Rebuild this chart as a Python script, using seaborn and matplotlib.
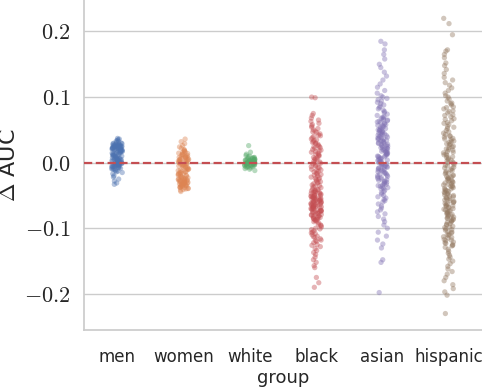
import numpy as np
import pandas as pd
import matplotlib
matplotlib.use('Agg')
import matplotlib.pyplot as plt
import seaborn as sns

# Delta AUC per group (dense runs = dense blobs)
groups = ['men', 'women', 'white', 'black', 'asian', 'hispanic']

men = [0.037, 0.036, 0.035, 0.034, 0.033, 0.032, 0.031,
       0.030, 0.029, 0.028, 0.027, 0.026, 0.025, 0.024, 0.023, 0.022, 0.021,
       0.020, 0.019, 0.018, 0.017, 0.016, 0.015, 0.014, 0.013, 0.012, 0.011,
       0.010, 0.009, 0.008, 0.007, 0.006, 0.005, 0.004, 0.003, 0.002, 0.001,
       0.000, -0.001, -0.002, -0.003, -0.004, -0.005, -0.006, -0.007, -0.008, -0.009,
       -0.010, -0.011, -0.012, -0.013, -0.014, -0.015, -0.017, -0.020, -0.022, -0.025,
       -0.028, -0.031, -0.033,
       0.0295, 0.0285, 0.0275, 0.0265, 0.0255, 0.0245, 0.0235, 0.0225, 0.0215, 0.0205,
       0.0195, 0.0185, 0.0175, 0.0165, 0.0155, 0.0145, 0.0135, 0.0125, 0.0115, 0.0105,
       0.0095, 0.0085, 0.0075, 0.0065, 0.0055, 0.0045, 0.0035, 0.0025, 0.0015, 0.0005,
       -0.0005, -0.0015, -0.0025, -0.0035, -0.0045, -0.0055, -0.0065, -0.0075, -0.0085, -0.0095,
       0.028, 0.027, 0.026, 0.025, 0.024, 0.023, 0.022, 0.021, 0.020, 0.019,
       0.0262, 0.0242, 0.0222, 0.0202, 0.0182,
       0.006, 0.005, 0.004, 0.003, 0.002, 0.001, 0.000, -0.001, -0.002, -0.003,
       -0.004, -0.005, -0.006]

women = [0.036, 0.032, 0.029, 0.026, 0.024, 0.022,
         0.020, 0.019, 0.018, 0.017, 0.016, 0.015, 0.014, 0.013, 0.012, 0.011,
         0.010, 0.009, 0.008, 0.007, 0.006, 0.005, 0.004, 0.003, 0.002, 0.001,
         0.000, -0.001, -0.002, -0.003, -0.004, -0.005, -0.006, -0.007, -0.008, -0.009,
         -0.010, -0.011, -0.012, -0.013, -0.014, -0.015, -0.016, -0.017, -0.018, -0.019,
         -0.020, -0.021, -0.022, -0.023, -0.024, -0.025, -0.026, -0.027, -0.028, -0.029,
         -0.030, -0.031, -0.032, -0.033, -0.034, -0.035, -0.036, -0.037, -0.038, -0.039,
         -0.040, -0.041, -0.042, -0.044,
         0.0145, 0.0125, 0.0105, 0.0085, 0.0065, 0.0045, 0.0025, 0.0005, -0.0015, -0.0035,
         -0.0055, -0.0075, -0.0095, -0.0115, -0.0135, -0.0155, -0.0175, -0.0195, -0.0215,
         -0.0235, -0.0255, -0.0275, -0.0295, -0.0315, -0.0335, -0.0355, -0.0375, -0.0395,
         0.008, 0.006, 0.004, 0.002, 0.000, -0.002,
         -0.024, -0.026, -0.028, -0.030, -0.032, -0.034, -0.036, -0.038,
         -0.0265, -0.0285, -0.0305, -0.0325, -0.0345]

white = [0.026, 0.016, 0.013, 0.011, 0.010, 0.009, 0.008, 0.007, 0.006, 0.005, 0.004, 0.003,
         0.002, 0.001, 0.000, -0.001, -0.002, -0.003, -0.004, -0.005, -0.006, -0.007, -0.008,
         -0.009, -0.010, -0.012,
         0.0075, 0.0065, 0.0055, 0.0045, 0.0035, 0.0025, 0.0015, 0.0005, -0.0005, -0.0015,
         -0.0025, -0.0035, -0.0045, -0.0055, -0.0065,
         0.005, 0.004, 0.003, 0.002, 0.001, 0.000, -0.001, -0.002, -0.003, -0.004,
         0.0032, 0.0012, -0.0008, -0.0028, 0.0022, 0.0002, -0.0018]

black = [0.100, 0.099, 0.075, 0.072, 0.068, 0.065, 0.063, 0.060, 0.058, 0.056, 0.054, 0.052,
         0.050, 0.048, 0.046, 0.044, 0.042, 0.040, 0.038, 0.036, 0.034, 0.032, 0.030, 0.028,
         0.026, 0.024, 0.022, 0.020, 0.018, 0.016, 0.014, 0.012, 0.010, 0.008, 0.006, 0.004,
         0.002, 0.000, -0.002, -0.004, -0.006, -0.008, -0.010, -0.012, -0.014, -0.016,
         -0.018, -0.020, -0.022, -0.024, -0.026, -0.028, -0.030, -0.032, -0.034, -0.036,
         -0.038,
         0.047, 0.041, 0.035, 0.029, 0.023, 0.017, 0.011, 0.005, -0.001, -0.007, -0.013,
         -0.019, -0.025, -0.031, -0.037,
         0.031, 0.025, 0.019, 0.013, 0.007, 0.001, -0.005, -0.011, -0.017, -0.023, -0.029,
         -0.035,
         -0.040, -0.041, -0.042, -0.043, -0.044, -0.045, -0.046, -0.047, -0.048, -0.049,
         -0.050, -0.051, -0.052, -0.053, -0.054, -0.055, -0.056, -0.057, -0.058, -0.059,
         -0.060, -0.061, -0.062, -0.063, -0.064, -0.065, -0.066, -0.067, -0.068, -0.069,
         -0.070, -0.071, -0.072, -0.073, -0.074, -0.075, -0.076, -0.077, -0.078, -0.079,
         -0.080, -0.081, -0.082, -0.083, -0.084, -0.085, -0.086, -0.087, -0.088, -0.089,
         -0.090,
         -0.0415, -0.0435, -0.0455, -0.0475, -0.0495, -0.0515, -0.0535, -0.0555, -0.0575,
         -0.0595, -0.0615, -0.0635, -0.0655, -0.0675, -0.0695, -0.0715, -0.0735, -0.0755,
         -0.0775, -0.0795, -0.0815, -0.0835, -0.0855, -0.0875,
         -0.0505, -0.0545, -0.0585, -0.0625, -0.0665, -0.0705, -0.0745, -0.0525, -0.0565,
         -0.0605, -0.0645, -0.0685, -0.0725,
         -0.092, -0.094, -0.096, -0.098, -0.100, -0.102, -0.104, -0.106, -0.108, -0.110,
         -0.112, -0.114, -0.116, -0.118, -0.120, -0.122, -0.125, -0.128, -0.131, -0.134,
         -0.137, -0.140, -0.144, -0.148, -0.152, -0.157, -0.160, -0.175, -0.183, -0.190,
         -0.095, -0.101, -0.107, -0.113, -0.119, -0.126]

asian = [0.185, 0.181, 0.172, 0.165, 0.158, 0.150, 0.145, 0.138, 0.132, 0.126, 0.120, 0.115,
         0.110, 0.106, 0.102,
         0.100, 0.098, 0.096, 0.094, 0.092, 0.090, 0.088, 0.086, 0.084, 0.082, 0.080, 0.078,
         0.076, 0.074, 0.072,
         0.070, 0.068, 0.066, 0.064, 0.062, 0.060, 0.058, 0.056, 0.054, 0.052,
         0.050, 0.048, 0.046, 0.044, 0.042, 0.040, 0.038, 0.036, 0.034, 0.032,
         0.030, 0.028, 0.026, 0.024, 0.022, 0.020, 0.018, 0.016, 0.014, 0.012,
         0.010, 0.008, 0.006, 0.004, 0.002, 0.000, -0.002, -0.004, -0.006, -0.008,
         -0.010, -0.012, -0.014, -0.016, -0.018, -0.020, -0.022, -0.024, -0.026, -0.028,
         -0.030, -0.032, -0.034, -0.036, -0.038, -0.040,
         0.069, 0.067, 0.065, 0.063, 0.061, 0.059, 0.057, 0.055, 0.053, 0.051,
         0.049, 0.047, 0.045, 0.043, 0.041, 0.039, 0.037, 0.035, 0.033, 0.031,
         0.029, 0.027, 0.025, 0.023, 0.021, 0.019, 0.017, 0.015, 0.013, 0.011,
         0.009, 0.007, 0.005, 0.003, 0.001, -0.001, -0.003, -0.005, -0.007, -0.009,
         -0.011, -0.013, -0.015, -0.017, -0.019, -0.021, -0.023, -0.025, -0.027, -0.029,
         -0.031, -0.033, -0.035, -0.037, -0.039,
         0.0495, 0.0455, 0.0415, 0.0375, 0.0335, 0.0295, 0.0255, 0.0215, 0.0175, 0.0135,
         0.0095, 0.0055, 0.0015, -0.0025, -0.0065, -0.0105,
         -0.042, -0.044, -0.046, -0.048, -0.050, -0.052, -0.054, -0.056, -0.058, -0.060,
         -0.063, -0.066, -0.069, -0.072, -0.075, -0.078, -0.082, -0.086, -0.090, -0.095,
         -0.100, -0.106, -0.112, -0.118, -0.124, -0.130, -0.148, -0.152, -0.198]

hispanic = [0.220, 0.212, 0.195, 0.172, 0.170, 0.165, 0.160, 0.152, 0.148, 0.142, 0.136, 0.130,
            0.126, 0.122, 0.118, 0.114, 0.110, 0.106, 0.102, 0.100,
            0.097, 0.094, 0.091, 0.088, 0.085, 0.082, 0.079, 0.076, 0.073, 0.070, 0.067, 0.064,
            0.061, 0.058, 0.055, 0.052, 0.049, 0.047,
            0.090, 0.084, 0.078, 0.072, 0.066, 0.060, 0.054,
            0.045, 0.043, 0.041, 0.039, 0.037, 0.035, 0.033, 0.031, 0.029, 0.027,
            0.025, 0.023, 0.021, 0.019, 0.017, 0.015, 0.013, 0.011, 0.009, 0.007,
            0.005, 0.003, 0.001, -0.001, -0.003, -0.005, -0.007, -0.009, -0.011, -0.013,
            -0.015, -0.017, -0.019, -0.021, -0.023, -0.025, -0.027, -0.029, -0.031, -0.033,
            -0.035, -0.037, -0.039, -0.041, -0.043, -0.045, -0.047, -0.049, -0.051, -0.053,
            -0.055, -0.057, -0.059, -0.061, -0.063, -0.065, -0.067, -0.069, -0.071, -0.073,
            -0.075, -0.077, -0.079, -0.081, -0.083, -0.085, -0.087, -0.089, -0.091, -0.093,
            -0.095, -0.097, -0.099, -0.101, -0.103, -0.105, -0.107, -0.109, -0.111, -0.113,
            -0.115, -0.117, -0.119, -0.121, -0.123, -0.125, -0.127, -0.129,
            0.040, 0.036, 0.032, 0.028, 0.024, 0.020, 0.016, 0.012, 0.008, 0.004, 0.000,
            -0.004, -0.008, -0.012, -0.016,
            -0.020, -0.022, -0.024, -0.026, -0.028, -0.030, -0.032, -0.034, -0.036, -0.038,
            -0.040, -0.042, -0.044, -0.046, -0.048, -0.050, -0.052, -0.054, -0.056, -0.058,
            -0.060, -0.062, -0.064, -0.066, -0.068, -0.070, -0.072, -0.074, -0.076, -0.078,
            -0.080, -0.082, -0.084, -0.086, -0.088, -0.090,
            -0.094, -0.098, -0.102, -0.106, -0.110, -0.114, -0.118, -0.122, -0.126,
            -0.132, -0.135, -0.138, -0.141, -0.144, -0.147, -0.150, -0.154, -0.158, -0.162,
            -0.166, -0.170, -0.175, -0.180, -0.186, -0.192, -0.197, -0.202, -0.230]

ytick_vals = [-0.2, -0.1, 0.0, 0.1, 0.2]
ytick_labels = ['$-0.2$', '$-0.1$', '$0.0$', '$0.1$', '$0.2$']

values = {'men': men, 'women': women, 'white': white,
          'black': black, 'asian': asian, 'hispanic': hispanic}
df = pd.DataFrame([(g, v) for g in groups for v in values[g]], columns=['group', 'delta'])

sns.set_theme(style='whitegrid')
plt.rcParams['font.family'] = ['DejaVu Sans']
plt.rcParams['mathtext.fontset'] = 'cm'

np.random.seed(0)
fig = plt.figure(figsize=(4.82, 3.90), dpi=100)
ax = fig.add_axes([0.174, 0.154, 0.826, 0.846])

sns.stripplot(data=df, x='group', y='delta', hue='group', order=groups,
              palette='deep', alpha=0.42, size=3.8, linewidth=0, jitter=0.08,
              legend=False, ax=ax)
ax.axhline(0, color=sns.color_palette('deep')[3], ls='--', lw=1.6, zorder=5)

ax.set_ylim(-0.255, 0.248)
ax.set_yticks(ytick_vals)
ax.set_yticklabels(ytick_labels, fontsize=16)
ax.tick_params(axis='x', labelsize=12, pad=7)
ax.set_xlabel('group', fontsize=13, labelpad=2)
ax.set_ylabel('$\\Delta$ AUC', fontsize=16)
sns.despine(ax=ax)

fig.savefig('out.png', dpi=100)
